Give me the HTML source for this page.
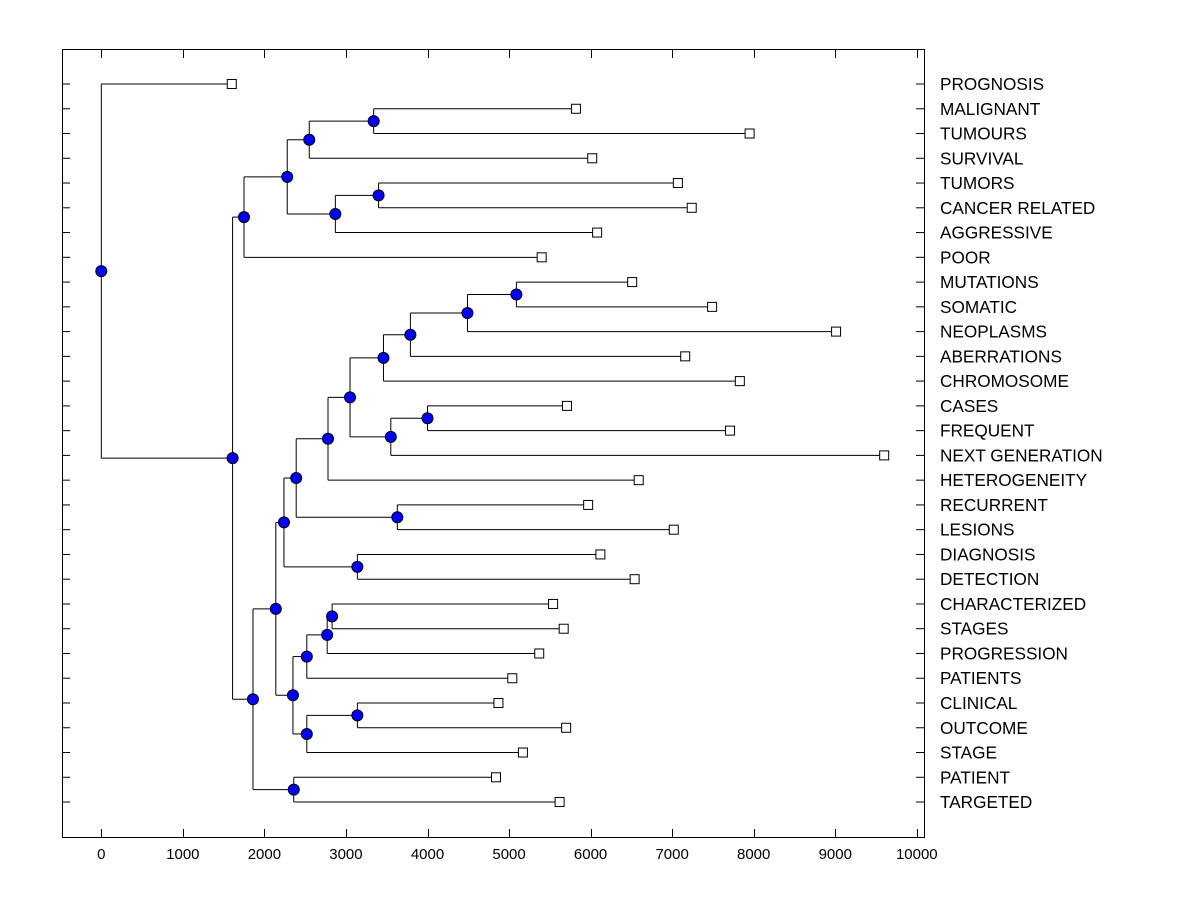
<!DOCTYPE html>
<html><head><meta charset="utf-8"><style>
body{margin:0;background:#fff;}
svg text{font-family:"Liberation Sans",Arial,sans-serif;}
</style></head><body>
<svg id="chart" width="1200" height="900" xmlns="http://www.w3.org/2000/svg">
<rect x="0" y="0" width="1200" height="900" fill="#fff"/>
<g id="lines"></g>
<g id="marks"></g>
<rect x="62.5" y="49.5" width="862" height="788" fill="none" stroke="#000" stroke-width="1"/>
<g id="axes"></g>
</svg>
<script>
const leafLabels = ["PROGNOSIS","MALIGNANT","TUMOURS","SURVIVAL","TUMORS","CANCER RELATED","AGGRESSIVE","POOR","MUTATIONS","SOMATIC","NEOPLASMS","ABERRATIONS","CHROMOSOME","CASES","FREQUENT","NEXT GENERATION","HETEROGENEITY","RECURRENT","LESIONS","DIAGNOSIS","DETECTION","CHARACTERIZED","STAGES","PROGRESSION","PATIENTS","CLINICAL","OUTCOME","STAGE","PATIENT","TARGETED"];
const leafValues = [1600,5820,7950,6020,7070,7240,6080,5400,6510,7490,9010,7160,7830,5710,7710,9600,6590,5970,7020,6120,6540,5540,5670,5370,5040,4870,5700,5170,4840,5620];
const mergeLeft = [1,30,4,32,31,34,8,36,37,38,13,40,39,42,17,43,19,45,21,48,49,25,51,50,47,28,54,35,0];
const mergeRight = [2,3,5,6,33,7,9,10,11,12,14,15,41,16,18,44,20,46,22,23,24,26,27,52,53,29,55,56,57];
const mergeHeights = [3340,2550,3400,2870,2280,1750,5090,4490,3790,3460,4000,3550,3050,2780,3630,2390,3140,2240,2830,2770,2520,3140,2520,2350,2140,2360,1860,1610,0];
const xTicks = [0,1000,2000,3000,4000,5000,6000,7000,8000,9000,10000];

const NS="http://www.w3.org/2000/svg";
const X0=101.3, XS=0.08155, Y0=84, YS=24.76;
function xs(v){return X0+v*XS;}
function ys(i){return Y0+i*YS;}
function mk(tag,attrs,parent){const e=document.createElementNS(NS,tag);for(const k in attrs)e.setAttribute(k,attrs[k]);parent.appendChild(e);return e;}
const lines=document.getElementById('lines'), marks=document.getElementById('marks'), axes=document.getElementById('axes');
const n=leafLabels.length;
const nodeY=[], nodeV=[];
for(let i=0;i<n;i++){nodeY[i]=ys(i);nodeV[i]=leafValues[i];}
for(let m=0;m<mergeHeights.length;m++){
  const a=mergeLeft[m], b=mergeRight[m], h=mergeHeights[m], id=n+m;
  nodeY[id]=(nodeY[a]+nodeY[b])/2; nodeV[id]=h;
  const v=mk('line',{x1:xs(h),x2:xs(h),y1:nodeY[a],y2:nodeY[b],stroke:'#000','stroke-width':1},lines);
  
  
  [a,b].forEach(c=>{
    const l=mk('line',{x1:xs(h),x2:xs(nodeV[c]),y1:nodeY[c],y2:nodeY[c],stroke:'#000','stroke-width':1},lines);
    
    
  });
}
for(let m=0;m<mergeHeights.length;m++){
  const id=n+m;
  const c=mk('circle',{cx:xs(nodeV[id]),cy:nodeY[id],r:5.5,fill:'#0000ff',stroke:'#000','stroke-width':1},marks);
  
  
}
for(let i=0;i<n;i++){
  const s=mk('rect',{x:xs(leafValues[i])-4.5,y:ys(i)-4.5,width:9,height:9,fill:'#fff',stroke:'#000','stroke-width':1},marks);
  
  
  const t=mk('text',{x:940,y:ys(i)+6,'font-size':17.2,fill:'#000'},axes);
  t.textContent=leafLabels[i];
  
  
  const tl=mk('line',{x1:62,x2:70,y1:ys(i),y2:ys(i),stroke:'#000','stroke-width':1},axes);
  
  
  const tr=mk('line',{x1:916,x2:924,y1:ys(i),y2:ys(i),stroke:'#000','stroke-width':1},axes);
  
  
}
xTicks.forEach(v=>{
  const x=Math.round(xs(v))+0.5;
  const b=mk('line',{x1:x,x2:x,y1:829,y2:837,stroke:'#000','stroke-width':1},axes);
  
  
  const t2=mk('line',{x1:x,x2:x,y1:50,y2:58,stroke:'#000','stroke-width':1},axes);
  
  
  const t=mk('text',{x:xs(v),y:859,'font-size':15,'text-anchor':'middle',fill:'#000'},axes);
  t.textContent=v;
  
  
});
</script>
</body></html>
